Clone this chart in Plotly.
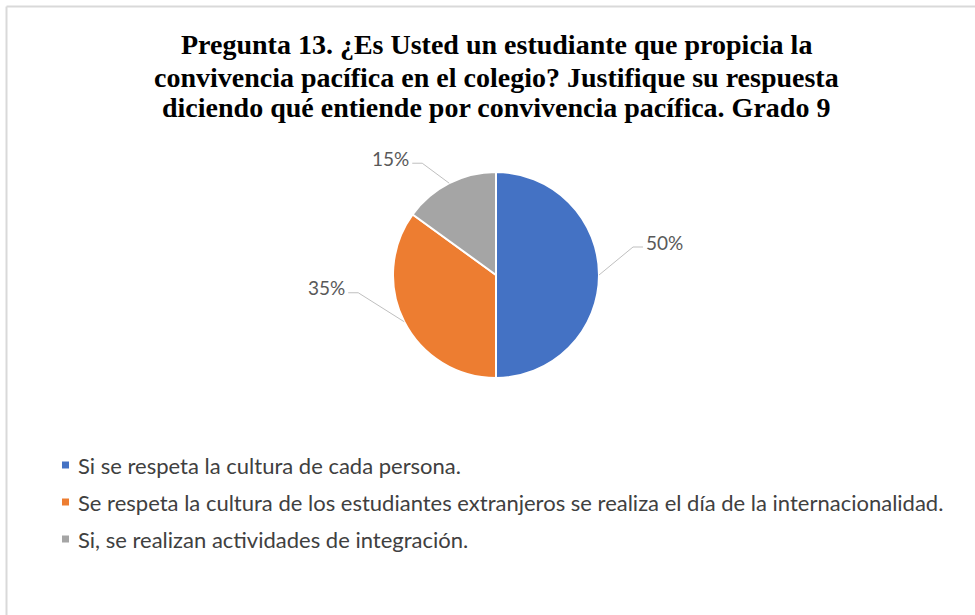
import math
import plotly.graph_objects as go

# ---- data ----
categories = [
    "Si se respeta la cultura de cada persona.",
    "Se respeta la cultura de los estudiantes extranjeros se realiza el día de la internacionalidad.",
    "Si, se realizan actividades de integración.",
]
values = [50, 35, 15]
colors = ["#4472C4", "#ED7D31", "#A5A5A5"]
title_lines = [
    "Pregunta 13. ¿Es Usted un estudiante que propicia la",
    "convivencia pacífica en el colegio? Justifique su respuesta",
    "diciendo qué entiende por convivencia pacífica. Grado 9",
]

# ---- layout / style (pixels, page coordinates) ----
W, H = 975, 615
OFF = 0  # page body margin removed via post_script
CX, CY, R = 496, 275, 103
label_elbows = [(34, -28), (-46, -29), (-27, -20)]   # elbow offset from slice edge
TAIL = 10
FONT = "Lato, 'Open Sans', sans-serif"
TITLE_Y = [45, 77, 108]

def px(x):
    return (x - OFF) / W

def py(y):
    return 1 - (y - OFF) / H

fig = go.Figure()
fig.add_trace(go.Pie(
    labels=categories,
    values=values,
    sort=False,
    direction="clockwise",
    rotation=0,
    marker=dict(colors=colors, line=dict(color="white", width=2)),
    textinfo="none",
    hoverinfo="label+percent",
    showlegend=False,
    domain=dict(x=[px(CX - R), px(CX + R)], y=[py(CY + R), py(CY - R)]),
))

shapes = []
annotations = []

# frame border (top and left visible)
shapes.append(dict(type="line", xref="paper", yref="paper",
                   x0=px(6.5), x1=1.02, y0=py(6.5), y1=py(6.5),
                   line=dict(color="#D9D9D9", width=2)))
shapes.append(dict(type="line", xref="paper", yref="paper",
                   x0=px(6.5), x1=px(6.5), y0=py(6.5), y1=-0.02,
                   line=dict(color="#D9D9D9", width=2)))

# data labels with leader lines
total = sum(values)
cum = 0
for i, v in enumerate(values):
    mid = (cum + v / 2) / total * 2 * math.pi
    cum += v
    ex = CX + R * math.sin(mid)
    ey = CY - R * math.cos(mid)
    dx, dy = label_elbows[i]
    bx, by = ex + dx, ey + dy
    side = 1 if dx > 0 else -1
    tx = bx + side * TAIL
    shapes.append(dict(type="path", xref="paper", yref="paper",
                       path=f"M {px(ex)},{py(ey)} L {px(bx)},{py(by)} L {px(tx)},{py(by)}",
                       line=dict(color="#BFBFBF", width=1)))
    annotations.append(dict(
        x=px(tx + side * 1), y=py(by - 5), xref="paper", yref="paper",
        text=f"{v / total * 100:.0f}%", showarrow=False,
        xanchor="left" if side > 0 else "right", yanchor="middle",
        font=dict(family=FONT, size=19, color="#595959"),
    ))

# legend (vertical, bottom-left)
LEG_X, LEG_Y0, LEG_DY, SQ = 62, 465, 37, 7
for i, cat in enumerate(categories):
    yc = LEG_Y0 + i * LEG_DY
    shapes.append(dict(type="rect", xref="paper", yref="paper",
                       x0=px(LEG_X), x1=px(LEG_X + SQ),
                       y0=py(yc + SQ / 2), y1=py(yc - SQ / 2),
                       fillcolor=colors[i], line=dict(width=0)))
    annotations.append(dict(
        x=px(LEG_X + 14), y=py(yc), xref="paper", yref="paper",
        text=cat, showarrow=False, xanchor="left", yanchor="middle",
        font=dict(family=FONT, size=22, color="#404040"),
    ))

# title (one annotation per line)
for line, yl in zip(title_lines, TITLE_Y):
    annotations.append(dict(
        x=px(496), y=py(yl), xref="paper", yref="paper",
        text=f"<b>{line}</b>", showarrow=False, xanchor="center", yanchor="middle",
        font=dict(family="'Liberation Serif', 'Times New Roman', serif", size=28, color="#000000"),
    ))

fig.update_layout(
    width=W, height=H,
    margin=dict(l=0, r=0, t=0, b=0),
    paper_bgcolor="white",
    plot_bgcolor="white",
    showlegend=False,
    shapes=shapes,
    annotations=annotations,
)

fig.write_html("out.html", config={"displayModeBar": False},
               post_script="document.body.style.margin='0';")
